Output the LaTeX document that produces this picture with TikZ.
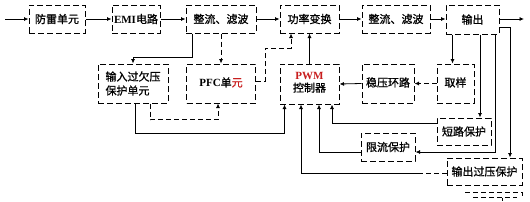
\documentclass[tikz,border=0pt]{standalone}
\usepackage{fontspec}
\setmainfont{Liberation Serif}
\newfontfamily\cjk[FakeBold=1]{Noto Sans CJK SC}
\usetikzlibrary{arrows.meta}
\definecolor{txtred}{RGB}{200,30,30}
\tikzset{
  box/.style={draw, dash pattern=on 6pt off 3pt, line width=1pt, inner sep=0pt,
    align=center, font=\cjk\fontsize{11}{14}\selectfont},
  toprow/.style={box, minimum height=28pt},
  midrow/.style={box, minimum height=39pt},
  prot/.style={box, minimum height=27pt},
  arr/.style={-{Latex[length=4.5pt,width=4pt]}, line width=0.8pt},
  dline/.style={dash pattern=on 5pt off 3pt},
}
\begin{document}
\begin{tikzpicture}[x=1pt,y=-1pt]
\useasboundingbox (0,0) rectangle (530,201);
% top row
\node[toprow, minimum width=56pt] (fl) at (57,19) {防雷单元};
\node[toprow, minimum width=48pt] (emi) at (136,19) {{\rmfamily\bfseries EMI}电路};
\node[toprow, minimum width=70pt] (zl1) at (221,19) {整流、滤波};
\node[toprow, minimum width=59pt] (gl) at (309.5,19) {功率变换};
\node[toprow, minimum width=68pt] (zl2) at (396,19) {整流、滤波};
\node[toprow, minimum width=53pt, minimum height=29pt] (out) at (472.5,19.5) {输出};
% middle row
\node[midrow, minimum width=70pt, align=left] (qy) at (133,83.5) {输入过欠压\\保护单元};
\node[midrow, minimum width=69pt] (pfc) at (221,83.5) {\raisebox{3pt}{{\rmfamily\bfseries PFC}单\textcolor{txtred}{元}}};
\node[midrow, minimum width=59pt, minimum height=40pt] (pwm) at (309.5,84) {\raisebox{4pt}{\shortstack{\textcolor{txtred}{\rmfamily\bfseries PWM}\\控制器}}};
\node[midrow, minimum width=52pt] (wy) at (388,83.5) {\raisebox{3pt}{稳压环路}};
\node[midrow, minimum width=37pt] (qs) at (455.5,83.5) {\raisebox{3pt}{取样}};
% protection boxes
\node[prot, minimum width=54pt] (dl) at (464,131.5) {短路保护};
\node[prot, minimum width=54pt, minimum height=28pt] (xl) at (388,147) {限流保护};
\node[prot, minimum width=75pt] (gy) at (484.5,171.5) {输出过压保护};
% free ends
\coordinate (in) at (5,19);
\coordinate (o) at (524,19);
\coordinate (gybend) at (420,173);
% main chain
\draw[arr] (in) -- (fl.west);
\draw[arr] (fl) -- (emi);
\draw[arr] (emi) -- (zl1);
\draw[arr] (zl1) -- (gl);
\draw[arr] (gl) -- (zl2);
\draw[arr] (zl2.east) -- (zl2.east -| out.west);
\draw[arr] (out.east |- o) -- (o);
% rectifier branches
\draw[arr] ([xshift=-29pt]zl1.south) -- ++(0,24) -| (qy.north);
\draw[arr, dline] (zl1.south) -- (pfc.north);
\draw[arr, dline] ([yshift=2.5pt]pfc.east) -- ++(9,0) -- ++(0,-33) -| ([xshift=-18.5pt]gl.south);
\draw[arr] (pwm.north) -- (gl.south);
% feedback
\draw[arr] ([xshift=-3pt]qs.north |- out.south) -- ([xshift=-3pt]qs.north);
\draw[arr, dline] (qs.west) -- (wy.east);
\draw[arr] (wy.west) -- (pwm.east);
% input protection
\draw[arr, dline] ([xshift=17pt]qy.south) -- ++(0,16) -| ([xshift=-3pt]pfc.south);
\draw[arr] ([xshift=2pt]qy.south) -- ++(0,29.5) -| ([xshift=-25pt]pwm.south);
% output protections
\draw[arr] ([yshift=8pt]dl.west) -| ([xshift=22.5pt]pwm.south);
\draw[arr] ([yshift=-5pt]xl.west) -| ([xshift=9.5pt]pwm.south);
\draw[line width=0.8pt, dline] ([yshift=-1.5pt]gy.west) -- (gybend);
\draw[arr] (gybend) -| ([xshift=-8.5pt]pwm.south);
\draw[arr] ([xshift=7.5pt]out.south) -- ([xshift=7.5pt]out.south |- dl.north);
\draw[arr] ([xshift=22.5pt]out.south) |- ([yshift=-5pt]xl.east);
\draw[arr] ([yshift=-7.5pt]out.east) -| ([xshift=25.5pt]gy.north);
% cropped fragments at bottom edge
\draw[line width=1pt, dline] (465,192) -- (522,192) -- (522,198);
\draw[line width=1pt, dline] (473,197.5) -- (517,197.5);
\draw[line width=1pt] (502,197.5) -- (502,201);
\end{tikzpicture}
\end{document}
